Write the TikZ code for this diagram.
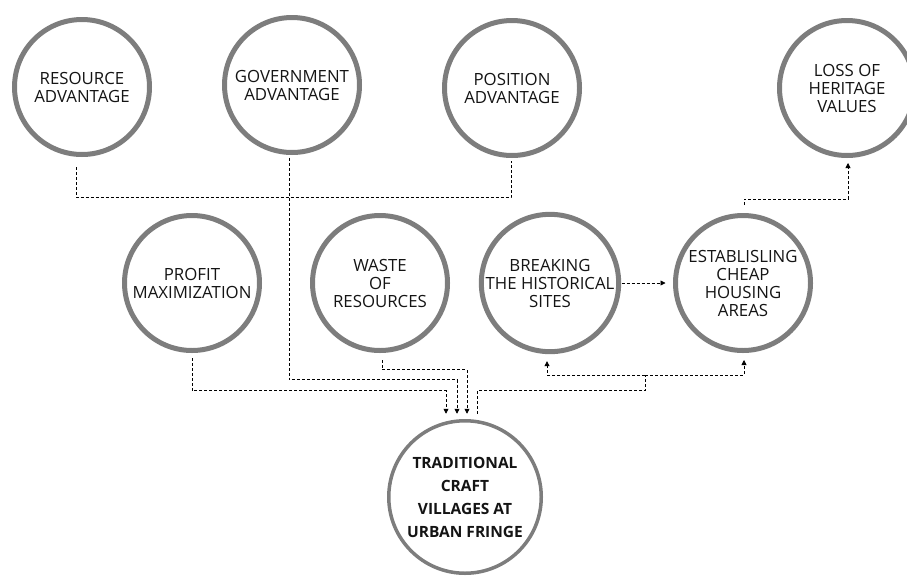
\documentclass[tikz,border=0pt]{standalone}
\usepackage{fontspec}
\setmainfont{Open Sans}
\usetikzlibrary{arrows.meta}
\definecolor{ringgray}{RGB}{125,125,125}
\definecolor{txt}{RGB}{20,20,20}
\tikzset{
	bubble/.style={circle, draw=ringgray, line width=5pt, minimum size=135pt, inner sep=0pt, outer sep=0pt, align=center, text=txt, font=\fontsize{16.8}{18}\selectfont},
	link/.style={densely dashed, line width=0.8pt, >={Triangle[length=5pt,width=5pt]}},
}
\begin{document}
\begin{tikzpicture}[x=1pt,y=-1pt]
			\useasboundingbox (0,0) rectangle (907,576);
			\node[bubble] (res) at (82,87) {RESOURCE\\ADVANTAGE};
			\node[bubble] (gov) at (292,85) {GOVERNMENT\\ADVANTAGE};
			\node[bubble] (pos) at (512,88) {POSITION\\ADVANTAGE};
			\node[bubble] (loss) at (847,88) {LOSS OF\\HERITAGE\\VALUES};
			\node[bubble] (profit) at (192,283) {PROFIT\\MAXIMIZATION};
			\node[bubble] (waste) at (380,283) {WASTE\\OF\\RESOURCES};
			\node[bubble] (break) at (550,283) {BREAKING\\THE HISTORICAL\\SITES};
			\node[bubble] (estab) at (743,283) {ESTABLISLING\\CHEAP\\HOUSING\\AREAS};
			\node[bubble, line width=3.5pt, minimum size=152.5pt, font=\bfseries\fontsize{15.5}{23}\selectfont] (trad) at (465,497) {TRADITIONAL\\CRAFT\\VILLAGES AT\\URBAN FRINGE};
			\coordinate (inA) at ([shift={(-19pt,7pt)}]trad.north);
			\coordinate (inB) at ([shift={(-8pt,7pt)}]trad.north);
			\coordinate (inC) at ([shift={(2pt,7pt)}]trad.north);
			\coordinate (fb) at (645,375);
			\draw[link] ([shift={(-6pt,-12.5pt)}]res.south) |- ([shift={(-1pt,-42pt)}]pos.south) -- ([shift={(-1pt,-5pt)}]pos.south);
			\draw[link, ->] ([shift={(-3pt,-5pt)}]gov.south) |- ([yshift=34pt]inB) -- (inB);
			\draw[link, ->] ([yshift=-7.5pt]profit.south) |- ([yshift=23pt]inA) -- (inA);
			\draw[link, ->] ([shift={(2pt,-9.5pt)}]waste.south) |- ([yshift=44pt]inC) -- (inC);
			\draw[link] ([xshift=10pt]inC) -- ++(0,-23) -| (fb);
			\draw[link, ->] (fb) -| ([shift={(-3pt,-9.5pt)}]break.south);
			\draw[link, ->] (fb) -| ([shift={(1pt,-9.5pt)}]estab.south);
			\draw[link, ->] ([xshift=3pt]break.east) -- ([xshift=-10pt]estab.west);
			\draw[link, ->] ([shift={(1pt,10.5pt)}]estab.north) -- ++(0,-6) -| ([shift={(1pt,-7.5pt)}]loss.south);
		\end{tikzpicture}
\end{document}
